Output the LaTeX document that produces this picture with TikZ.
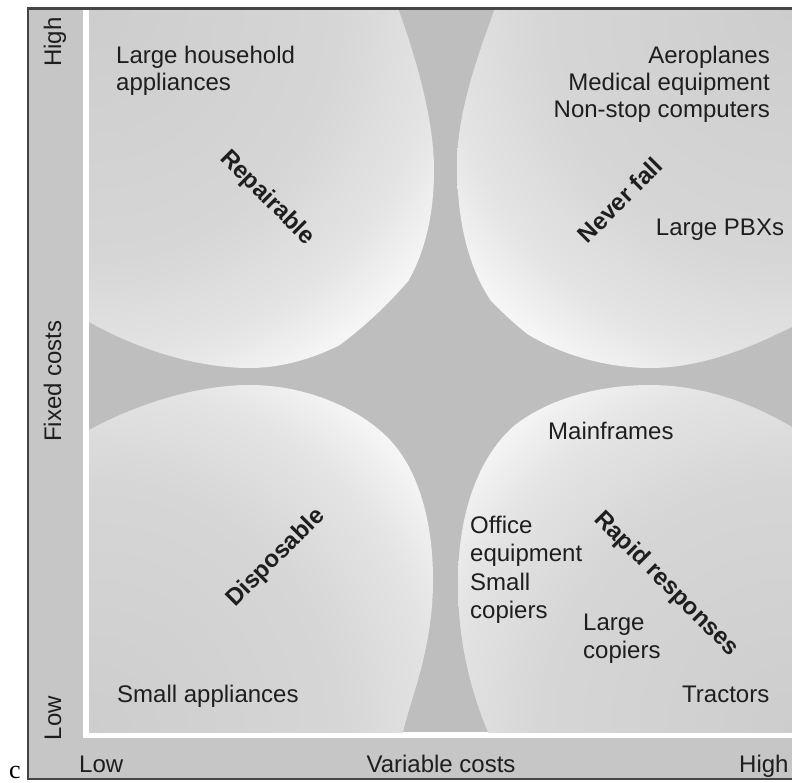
\documentclass[tikz,border=0pt]{standalone}
\usepackage{fontspec}
\setmainfont{Liberation Sans}
\newfontfamily\seriffont{Liberation Serif}

\definecolor{framegray}{HTML}{454545}
\definecolor{bandgray}{HTML}{C6C6C6}
\definecolor{gapgray}{HTML}{BEBEBE}
\definecolor{blobdark}{HTML}{CDCDCD}
\definecolor{blobmid}{HTML}{D6D6D6}
\definecolor{blobsoft}{HTML}{E4E4E4}
\definecolor{blobhi}{HTML}{F6F6F6}
\definecolor{inkgray}{HTML}{1E1E1E}

% light rim towards the middle of the chart, darker towards the outer corner
% (25bp is the radius of the shaded circle)
\pgfdeclareradialshading{blobglow}{\pgfpoint{0bp}{0bp}}{%
  color(0bp)=(blobdark); color(15bp)=(blobmid); color(21bp)=(blobsoft);
  color(25bp)=(blobhi); color(50bp)=(blobhi)}

\begin{document}
\begin{tikzpicture}[x=1pt, y=-1pt,
  itemtext/.style={font=\fontsize{24}{27}\selectfont, text=inkgray, inner sep=0pt},
  quadname/.style={font=\bfseries\fontsize{24}{27}\selectfont, text=inkgray, inner sep=0pt},
  axistext/.style={font=\fontsize{24}{27}\selectfont, text=inkgray, inner sep=0pt}]
\useasboundingbox (0,0) rectangle (792,782);
\fill[white] (0,0) rectangle (792,782);

% axis band, white L-shaped rule and plot field
\fill[bandgray] (28,8) rectangle (800,779);
\fill[white] (83,8) rectangle (800,738);
\fill[gapgray] (89,8) rectangle (800,732);

% four rounded quadrant regions, clipped to the field
\begin{scope}
  \clip (89,8) rectangle (800,732);
  % top left: repairable
  \begin{scope}
    \clip (60,-20) -- (391,-20) -- (398,8)
      .. controls (413,50) and (434,115) .. (434,170)
      .. controls (434,240) and (412,285) .. (383,315)
      .. controls (355,343) and (300,368) .. (250,368)
      .. controls (190,368) and (130,345) .. (89,322)
      -- (60,310) -- cycle;
    \shade[shading=blobglow] (89,8) circle[radius=420pt];
  \end{scope}
  % top right: never fail
  \begin{scope}
    \clip (830,-20) -- (502,-20) -- (495,8)
      .. controls (480,50) and (457,110) .. (457,165)
      .. controls (457,240) and (478,295) .. (510,322)
      .. controls (545,350) and (600,368) .. (650,368)
      .. controls (705,368) and (755,345) .. (792,327)
      -- (830,310) -- cycle;
    \shade[shading=blobglow] (792,8) circle[radius=420pt];
  \end{scope}
  % bottom left: disposable
  \begin{scope}
    \clip (60,442) -- (89,430)
      .. controls (135,405) and (195,385) .. (250,385)
      .. controls (305,385) and (360,408) .. (390,440)
      .. controls (420,472) and (433,525) .. (433,580)
      .. controls (433,650) and (410,700) .. (403,732)
      -- (398,760) -- (60,760) -- cycle;
    \shade[shading=blobglow] (89,732) circle[radius=420pt];
  \end{scope}
  % bottom right: rapid responses
  \begin{scope}
    \clip (830,760) -- (493,760) -- (488,732)
      .. controls (466,680) and (458,630) .. (458,583)
      .. controls (458,510) and (480,455) .. (515,425)
      .. controls (550,398) and (600,385) .. (650,385)
      .. controls (705,385) and (755,405) .. (792,427)
      -- (830,445) -- cycle;
    \shade[shading=blobglow] (792,732) circle[radius=420pt];
  \end{scope}
\end{scope}

% frame
\draw[framegray, line width=2.5pt] (800,8.5) -- (28,8.5) -- (28,779) -- (800,779);

% vertical axis
\node[axistext, rotate=90, anchor=base] (yhigh) at (61,42) {High};
\node[axistext, rotate=90, anchor=base] (yname) at (61,381) {Fixed costs};
\node[axistext, rotate=90, anchor=base] (ylow) at (61,718) {Low};

% horizontal axis
\node[axistext, anchor=base west] (xlow) at (79,772) {Low};
\node[axistext, anchor=base] (xname) at (441,772) {Variable costs};
\node[axistext, anchor=base west] (xhigh) at (739,772) {High};

\node[font=\seriffont\fontsize{26}{28}\selectfont, inner sep=0pt, anchor=base west] (cmark) at (9,778) {c};

% top left
\node[itemtext, anchor=base west] (tl1) at (116,63) {Large household};
\node[itemtext, anchor=base west] (tl2) at (116,90) {appliances};
\node[quadname, rotate=-45] (repair) at (267,198) {Repairable};

% top right
\node[itemtext, anchor=base east] (tr1) at (770,63) {Aeroplanes};
\node[itemtext, anchor=base east] (tr2) at (770,90) {Medical equipment};
\node[itemtext, anchor=base east] (tr3) at (770,117) {Non-stop computers};
\node[itemtext, anchor=base] (tr4) at (720,235) {Large PBXs};
\node[quadname, rotate=45] (never) at (620,200) {Never fall};

% bottom left
\node[quadname, rotate=45] (dispose) at (276,558) {Disposable};
\node[itemtext, anchor=base west] (bl1) at (117,702) {Small appliances};

% bottom right
\node[itemtext, anchor=base west] (br1) at (548,439) {Mainframes};
\node[itemtext, anchor=base west] (br2) at (470,533) {Office};
\node[itemtext, anchor=base west] (br3) at (470,561) {equipment};
\node[itemtext, anchor=base west] (br4) at (470,590) {Small};
\node[itemtext, anchor=base west] (br5) at (470,618) {copiers};
\node[itemtext, anchor=base west] (br6) at (583,630) {Large};
\node[itemtext, anchor=base west] (br7) at (583,658) {copiers};
\node[itemtext, anchor=base west] (br8) at (682,702) {Tractors};
\node[quadname, rotate=-45] (rapid) at (666,584) {Rapid responses};
\end{tikzpicture}
\end{document}
